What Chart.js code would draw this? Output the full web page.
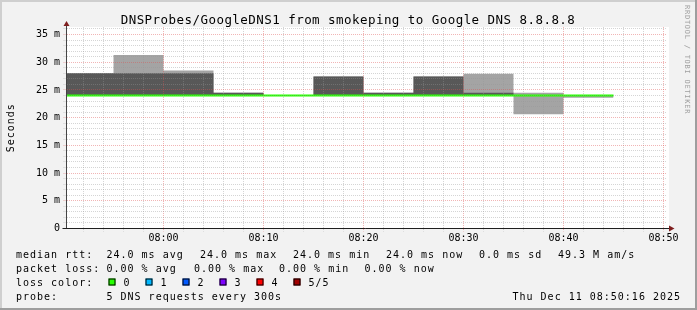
<!DOCTYPE html>
<html>
<head>
<meta charset="utf-8">
<script src="https://cdn.jsdelivr.net/npm/chart.js@4/dist/chart.umd.min.js"></script>
<style>
    html, body { margin: 0; padding: 0; background: #f2f2f2; }
    canvas { display: block; }
</style>
</head>
<body>
<canvas id="smokeChart" width="697" height="310"></canvas>
<script>
/* Smokeping detail graph - DNSProbes/GoogleDNS1, last hour */

// 5 minute bins, minutes relative to 08:00
const binStarts = [-10, -5, 0, 5, 10, 15, 20, 25, 30, 35, 40];
const binWidth = 5;

// sorted pings per bin (ms), ping3 is the median
const ping1 = [24, 24, 24, 24, 24, 24, 24, 24, 24, 20.6, 23.6];
const ping2 = [24, 24, 24, 24, 24, 24, 24, 24, 24, 24, 24];
const medianRtt = [24, 24, 24, 24, 24, 24, 24, 24, 24, 24, 24];
const ping4 = [28, 28, 28, 24.5, 24, 27.4, 24.5, 27.4, 24.5, 24, 24];
const ping5 = [28, 31.3, 28.5, 24.5, 24, 27.4, 24.5, 27.4, 27.9, 24.5, 24];

// axes
const xTickMinutes = [0, 10, 20, 30, 40, 50];
const xTickLabels = ['08:00', '08:10', '08:20', '08:30', '08:40', '08:50'];
const yTickValues = [0, 5, 10, 15, 20, 25, 30, 35];
const yTickLabels = ['0', '5 m', '10 m', '15 m', '20 m', '25 m', '30 m', '35 m'];

// legend
const lossLabels = ['0', '1', '2', '3', '4', '5/5'];
const lossColors = ['#26ff00', '#00b8ff', '#0059ff', '#7e00ff', '#ff0000', '#a10000'];

const MONO = '"DejaVu Sans Mono", "Liberation Mono", monospace';
const GRID_MINOR = 'rgba(150, 150, 150, 0.4)';
const GRID_MAJOR = 'rgba(222, 79, 79, 0.42)';
const ARROW = '#7f1f1f';

// minor grid every 2 min / 1 ms
const xGrid = [];
for (let m = -8; m <= 50; m += 2) xGrid.push(m);
const yGrid = [];
for (let v = 0; v <= 36; v++) yGrid.push(v);

// step points: one per bin start, plus the end of the last bin
function stepPoints(values) {
    const pts = binStarts.map((x, i) => ({ x: x, y: values[i] }));
    pts.push({ x: binStarts[binStarts.length - 1] + binWidth, y: values[values.length - 1] });
    return pts;
}

function smokeEdge(values, fillColor, order) {
    return {
        data: stepPoints(values),
        stepped: 'before',
        borderColor: 'transparent',
        borderWidth: 0,
        pointRadius: 0,
        backgroundColor: fillColor || 'transparent',
        fill: fillColor ? '-1' : false,
        clip: 0,
        order: order
    };
}

function drawText(ctx, text, x, y, font, spacing, align) {
    ctx.font = font;
    ctx.letterSpacing = spacing;
    ctx.textAlign = align || 'left';
    ctx.fillText(text, x, y);
}

const rrdDecor = {
    id: 'rrdDecor',
    beforeDraw(chart) {
        const ctx = chart.ctx;
        const w = chart.width, h = chart.height;
        const a = chart.chartArea;
        ctx.save();
        ctx.fillStyle = '#f2f2f2';
        ctx.fillRect(0, 0, w, h);
        ctx.fillStyle = '#cfcfcf';
        ctx.fillRect(0, 0, w, 2);
        ctx.fillRect(0, 0, 2, h);
        ctx.fillStyle = '#9e9e9e';
        ctx.fillRect(0, h - 2, w, 2);
        ctx.fillRect(w - 2, 0, 2, h);
        // canvas
        ctx.fillStyle = '#ffffff';
        ctx.fillRect(Math.floor(a.left), a.top, 669 - Math.floor(a.left), Math.floor(a.bottom) - a.top);
        ctx.restore();
    },
    afterDraw(chart) {
        const ctx = chart.ctx;
        const a = chart.chartArea;
        const ax = Math.floor(a.left) + 0.5;
        const ay = Math.floor(a.bottom) + 0.5;
        ctx.save();

        // axes
        ctx.lineWidth = 1;
        ctx.strokeStyle = '#444';
        ctx.beginPath();
        ctx.moveTo(ax, a.top - 1);
        ctx.lineTo(ax, ay);
        ctx.stroke();
        ctx.strokeStyle = '#1f1f1f';
        ctx.beginPath();
        ctx.moveTo(ax - 4, ay);
        ctx.lineTo(669, ay);
        ctx.stroke();

        // arrows
        ctx.fillStyle = ARROW;
        ctx.beginPath();
        ctx.moveTo(ax, a.top - 6);
        ctx.lineTo(ax + 3, a.top - 1);
        ctx.lineTo(ax - 3, a.top - 1);
        ctx.closePath();
        ctx.fill();
        ctx.beginPath();
        ctx.moveTo(674.5, ay);
        ctx.lineTo(669, ay - 3);
        ctx.lineTo(669, ay + 3);
        ctx.closePath();
        ctx.fill();

        ctx.fillStyle = '#000000';
        ctx.textBaseline = 'alphabetic';

        // title
        drawText(ctx, 'DNSProbes/GoogleDNS1 from smokeping to Google DNS 8.8.8.8', 348, 24,
            '12.5px ' + MONO, '0.45px', 'center');

        // y axis title
        ctx.save();
        ctx.translate(11, (a.top + a.bottom) / 2);
        ctx.rotate(-Math.PI / 2);
        ctx.textBaseline = 'middle';
        drawText(ctx, 'Seconds', 0, 0, '10px ' + MONO, '1px', 'center');
        ctx.restore();

        // legend
        const lf = '10px ' + MONO;
        const rows = [
            [[16, 'median rtt:'], [106.5, '24.0 ms avg'], [200, '24.0 ms max'], [293, '24.0 ms min'],
             [386, '24.0 ms now'], [479, '0.0 ms sd'], [558, '49.3 M am/s']],
            [[16, 'packet loss:'], [106.5, '0.00 % avg'], [194, '0.00 % max'], [279, '0.00 % min'],
             [364.5, '0.00 % now']],
            [[16, 'loss color:']],
            [[16, 'probe:'], [106.5, '5 DNS requests every 300s']]
        ];
        const baselines = [258, 272, 286, 300];
        rows.forEach((row, r) => {
            row.forEach(item => drawText(ctx, item[1], item[0], baselines[r], lf, '1px'));
        });
        drawText(ctx, 'Thu Dec 11 08:50:16 2025', 681, baselines[3], lf, '1px', 'right');

        lossLabels.forEach((label, i) => {
            const bx = 108.5 + i * 37;
            ctx.fillStyle = lossColors[i];
            ctx.fillRect(bx, 278.5, 7, 7);
            ctx.strokeStyle = '#000000';
            ctx.strokeRect(bx + 0.5, 279, 6, 6);
            ctx.fillStyle = '#000000';
            drawText(ctx, label, bx + 15, baselines[2], lf, '1px');
        });

        // watermark
        ctx.save();
        ctx.translate(686.5, 5);
        ctx.rotate(Math.PI / 2);
        ctx.fillStyle = '#a0a0a0';
        ctx.textBaseline = 'middle';
        drawText(ctx, 'RRDTOOL / TOBI OETIKER', 0, 0, '7px ' + MONO, '0.75px', 'left');
        ctx.restore();

        ctx.restore();
    }
};

function gridColor(major) {
    return (c) => (c.tick && c.tick.value % major === 0) ? GRID_MAJOR : GRID_MINOR;
}

new Chart(document.getElementById('smokeChart'), {
    type: 'line',
    data: {
        datasets: [
            // outer smoke: min .. max ping
            smokeEdge(ping1, null, 2),
            smokeEdge(ping5, '#a4a4a4', 2),
            // inner smoke: 2nd .. 4th ping
            smokeEdge(ping2, null, 1),
            smokeEdge(ping4, '#585858', 1),
            {
                label: 'median rtt',
                data: stepPoints(medianRtt),
                borderColor: '#26ff00',
                borderWidth: 2,
                stepped: 'before',
                pointRadius: 0,
                fill: false,
                clip: 0,
                order: 0
            }
        ]
    },
    options: {
        responsive: false,
        animation: false,
        events: [],
        layout: { padding: { left: 0, right: 30.5, top: 27, bottom: 0 } },
        plugins: {
            legend: { display: false },
            tooltip: { enabled: false },
            title: { display: false }
        },
        scales: {
            x: {
                type: 'linear',
                min: -9.7,
                max: 50.3,
                offset: false,
                afterBuildTicks: (axis) => { axis.ticks = xGrid.map(v => ({ value: v })); },
                afterFit: (axis) => { axis.height = 81.5; },
                grid: {
                    color: gridColor(10),
                    tickColor: gridColor(10),
                    lineWidth: 1,
                    drawTicks: true,
                    tickLength: 3,
                    tickBorderDash: [1, 1],
                    z: 1
                },
                border: { display: false, dash: [1, 1] },
                ticks: {
                    autoSkip: false,
                    maxRotation: 0,
                    minRotation: 0,
                    padding: 0.5,
                    color: '#000000',
                    font: { family: MONO, size: 10 },
                    callback: (value) => {
                        const i = xTickMinutes.indexOf(value);
                        return i >= 0 ? xTickLabels[i] : '';
                    }
                }
            },
            y: {
                type: 'linear',
                min: 0,
                max: 36.35,
                afterBuildTicks: (axis) => { axis.ticks = yGrid.map(v => ({ value: v })); },
                afterFit: (axis) => { axis.width = 66.5; },
                grid: {
                    color: gridColor(5),
                    tickColor: gridColor(5),
                    lineWidth: 1,
                    drawTicks: true,
                    tickLength: 3,
                    tickBorderDash: [1, 1],
                    z: 1
                },
                border: { display: false, dash: [1, 1] },
                ticks: {
                    autoSkip: false,
                    padding: 3.5,
                    color: '#000000',
                    font: { family: MONO, size: 10 },
                    callback: (value) => {
                        const i = yTickValues.indexOf(value);
                        return i >= 0 ? yTickLabels[i] : '';
                    }
                }
            }
        }
    },
    plugins: [rrdDecor]
});
</script>
</body>
</html>
